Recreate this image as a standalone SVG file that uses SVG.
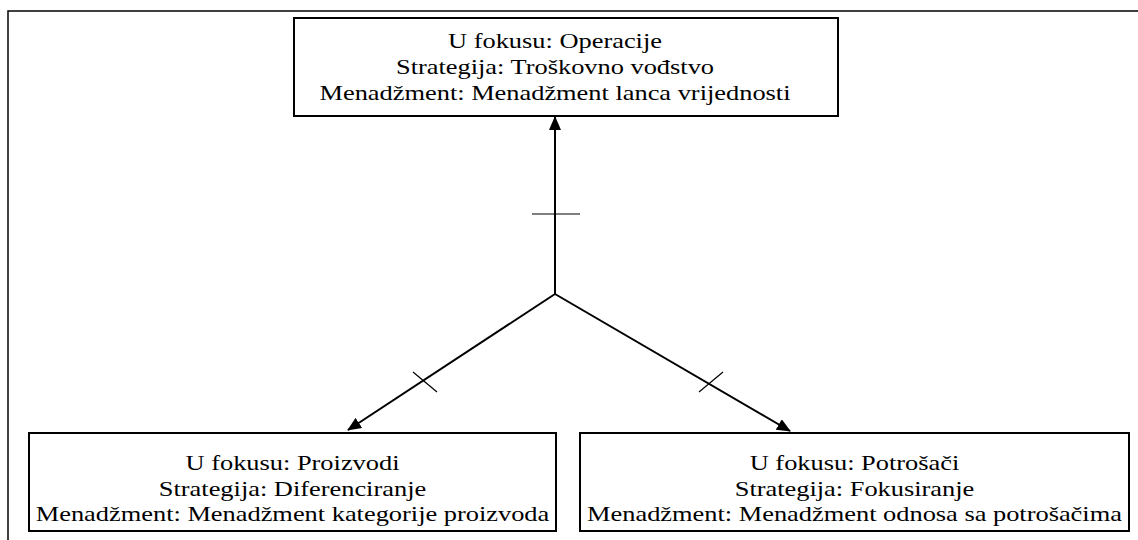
<svg xmlns="http://www.w3.org/2000/svg" width="1138" height="540" viewBox="0 0 1138 540">
  <style>
    .frame { fill: none; stroke: #000; stroke-width: 1.5; }
    .box { fill: #fff; stroke: #000; stroke-width: 2; }
    .label { font-family: 'Liberation Serif', 'Times New Roman', 'DejaVu Serif', serif; font-size: 22px; fill: #000; text-anchor: middle; }
    .link { fill: none; stroke: #000; stroke-width: 2; }
    .tick { fill: none; stroke: #000; stroke-width: 1.2; }
  </style>
  <defs>
    <marker id="arrow" viewBox="0 0 14 12" refX="13" refY="6" markerWidth="14" markerHeight="12" markerUnits="userSpaceOnUse" orient="auto">
      <path d="M0,0 L14,6 L0,12 Z" fill="#000"/>
    </marker>
  </defs>

  <rect width="1138" height="540" fill="#fff"/>

  <!-- outer frame: top and left edges -->
  <path class="frame" d="M8,540 V11 H1138"/>

  <g id="connectors">
    <line class="link" x1="555" y1="294" x2="555" y2="117" marker-end="url(#arrow)"/>
    <line class="link" x1="555" y1="294" x2="348" y2="430" marker-end="url(#arrow)"/>
    <line class="link" x1="555" y1="294" x2="790" y2="431" marker-end="url(#arrow)"/>
    <line class="tick" x1="532" y1="214" x2="580" y2="214"/>
    <line class="tick" x1="413" y1="372" x2="437" y2="392"/>
    <line class="tick" x1="699" y1="392" x2="723" y2="372"/>
  </g>

  <g id="node-operacije">
    <rect class="box" x="294" y="18" width="544" height="98"/>
    <!-- labels are set slightly wide: 22px glyphs stretched 1.2x horizontally -->
    <g transform="translate(555,0) scale(1.2,1)">
      <text class="label" x="0" y="48">U fokusu: Operacije</text>
      <text class="label" x="0" y="74">Strategija: Troškovno vođstvo</text>
      <text class="label" x="0" y="100">Menadžment: Menadžment lanca vrijednosti</text>
    </g>
  </g>

  <g id="node-proizvodi">
    <rect class="box" x="29" y="433" width="527" height="98"/>
    <g transform="translate(292.5,0) scale(1.2,1)">
      <text class="label" x="0" y="470">U fokusu: Proizvodi</text>
      <text class="label" x="0" y="496">Strategija: Diferenciranje</text>
      <text class="label" x="0" y="521">Menadžment: Menadžment kategorije proizvoda</text>
    </g>
  </g>

  <g id="node-potrosaci">
    <rect class="box" x="580" y="433" width="549" height="98"/>
    <g transform="translate(854.5,0) scale(1.2,1)">
      <text class="label" x="0" y="470">U fokusu: Potrošači</text>
      <text class="label" x="0" y="496">Strategija: Fokusiranje</text>
      <text class="label" x="0" y="521">Menadžment: Menadžment odnosa sa potrošačima</text>
    </g>
  </g>
</svg>
